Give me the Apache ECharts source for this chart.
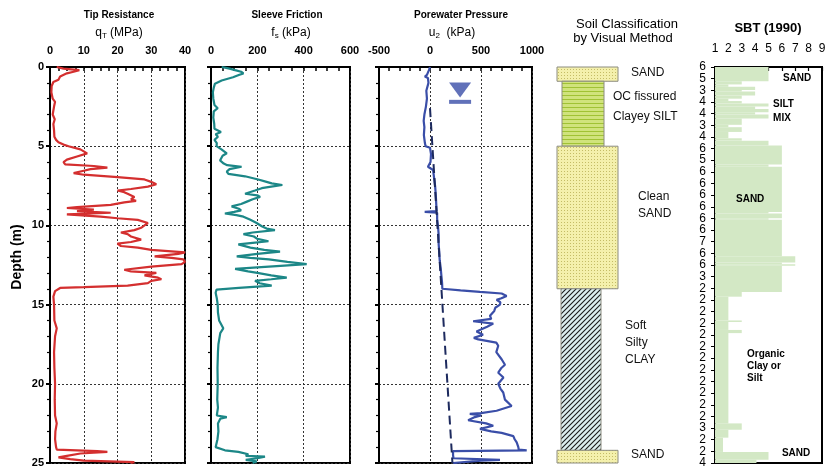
<!DOCTYPE html>
<html>
<head>
<meta charset="utf-8">
<title>CPTu profile</title>
<script src="https://cdn.jsdelivr.net/npm/echarts@6.0.0/dist/echarts.min.js"></script>
<style>
  html, body { margin: 0; padding: 0; background: #fff; }
  #profile { width: 832px; height: 474px; }
</style>
</head>
<body>
<div id="profile"></div>
<script>
var qtProfile = [
  [0, 2], [0.1, 4], [0.2, 8.7], [0.3, 7], [0.4, 5], [0.6, 3], [0.8, 2.5], [0.95, 1], [1.2, 0.5], [1.6, 0.4],
  [2.0, 0.8], [2.2, 1.5], [2.5, 1.2], [3.0, 0.8], [3.3, 1.4], [3.6, 1.0], [4.0, 1.2], [4.4, 1.3], [4.6, 1.8], [4.75, 2.5],
  [4.9, 4], [5.0, 5.5], [5.2, 9], [5.45, 11], [5.65, 8], [5.85, 5], [6.0, 4], [6.15, 4.5], [6.25, 13], [6.35, 17],
  [6.45, 12], [6.55, 10], [6.7, 7], [6.8, 10], [6.95, 20], [7.1, 28], [7.25, 30], [7.4, 31.5], [7.55, 29], [7.7, 24],
  [7.8, 20], [7.9, 22], [8.0, 23], [8.2, 25], [8.35, 24], [8.45, 25.5], [8.55, 22], [8.7, 18], [8.85, 8], [8.9, 5],
  [9.0, 13], [9.1, 8], [9.2, 18], [9.3, 5], [9.45, 15], [9.55, 20], [9.65, 26], [9.85, 29], [10.0, 28], [10.15, 27],
  [10.3, 25], [10.45, 21], [10.55, 23], [10.7, 24], [10.9, 27], [11.05, 24], [11.15, 20], [11.3, 21], [11.4, 26], [11.55, 30],
  [11.7, 40], [11.8, 38], [11.95, 31], [12.05, 36], [12.15, 39.5], [12.3, 40], [12.45, 39], [12.6, 30], [12.8, 22], [12.9, 24],
  [13.0, 31.5], [13.15, 28], [13.3, 32], [13.4, 33], [13.5, 30], [13.65, 29], [13.8, 23], [13.9, 10], [13.95, 3], [14.15, 1.5],
  [14.5, 1], [15, 1.2], [16, 1.3], [16.5, 2], [17, 1.5], [18, 1.2], [19, 1.3], [20, 1.5], [21, 1.4], [22, 1.5],
  [22.5, 2], [23, 1.6], [23.5, 1.5], [24.0, 1.8], [24.15, 2], [24.25, 14], [24.3, 17], [24.4, 9], [24.55, 5], [24.65, 2.5],
  [24.75, 6], [24.85, 10], [24.95, 25], [25.0, 24]
];

var fsProfile = [
  [0, 46], [0.1, 80], [0.2, 104], [0.3, 130], [0.4, 140], [0.5, 120], [0.65, 95], [0.85, 46], [1.05, 17], [1.3, 12],
  [1.6, 8], [2.0, 10], [2.4, 15], [2.6, 29], [2.8, 12], [3.2, 10], [3.6, 14], [3.9, 15], [4.1, 43], [4.25, 20],
  [4.4, 30], [4.6, 15], [4.8, 25], [5.0, 24], [5.2, 45], [5.45, 68], [5.6, 50], [5.9, 39], [6.1, 55], [6.2, 70],
  [6.3, 132], [6.45, 80], [6.6, 68], [6.75, 75], [6.9, 147], [7.1, 204], [7.25, 240], [7.35, 262], [7.45, 308], [7.55, 260],
  [7.65, 219], [7.8, 190], [8.0, 147], [8.1, 200], [8.2, 212], [8.35, 180], [8.5, 155], [8.65, 130], [8.8, 89], [8.95, 120],
  [9.05, 130], [9.15, 100], [9.25, 60], [9.35, 110], [9.45, 140], [9.65, 170], [9.85, 197], [10.05, 219], [10.2, 240], [10.3, 276],
  [10.45, 180], [10.55, 140], [10.7, 185], [10.85, 200], [11.0, 248], [11.1, 180], [11.2, 118], [11.4, 170], [11.55, 230], [11.65, 298],
  [11.8, 200], [11.95, 111], [12.05, 170], [12.15, 250], [12.3, 330], [12.45, 413], [12.55, 300], [12.65, 200], [12.75, 104], [12.9, 160],
  [13.0, 200], [13.15, 260], [13.3, 327], [13.4, 260], [13.5, 190], [13.65, 210], [13.8, 262], [13.95, 120], [14.05, 24], [14.25, 20],
  [14.6, 25], [15, 29], [15.5, 30], [16, 35], [16.5, 53], [16.8, 40], [17.5, 32], [18, 30], [19, 28], [20, 29],
  [21, 27], [21.5, 30], [22, 25], [22.1, 68], [22.2, 40], [22.5, 30], [23, 32], [23.5, 28], [24.0, 20], [24.2, 60],
  [24.3, 118], [24.45, 161], [24.55, 150], [24.6, 233], [24.7, 200], [24.8, 150], [24.9, 197], [25, 180]
];

var u2Profile = [
  [0, 0], [0.2, -10], [0.5, -30], [0.6, -50], [0.7, -20], [1.0, -15], [1.5, -36], [2.0, -30], [2.5, -40], [3.0, -55],
  [3.4, -62], [3.8, -55], [4.3, -60], [4.8, -50], [5.0, -43], [5.1, 0], [5.5, 10], [6.0, 5], [6.3, -20], [6.4, -15],
  [6.5, 30], [7.0, 40], [7.5, 50], [8.0, 56], [8.5, 60], [9.1, 65], [9.15, -52], [9.2, 70], [9.6, 70], [10.1, 79],
  [10.6, 85], [11.2, 85], [11.6, 90], [12.2, 95], [12.7, 105], [13.2, 112], [13.6, 118], [14.0, 121], [14.1, 300], [14.2, 489],
  [14.3, 702], [14.45, 751], [14.6, 700], [14.7, 653], [14.85, 690], [15.0, 686], [15.2, 640], [15.4, 630], [15.7, 588], [15.9, 600],
  [16.05, 423], [16.2, 620], [16.4, 560], [16.7, 456], [16.9, 520], [17.1, 430], [17.2, 474], [17.4, 650], [17.6, 669], [18.0, 650],
  [18.45, 702], [18.8, 735], [19.0, 700], [19.3, 669], [19.6, 720], [20.0, 669], [20.3, 690], [20.55, 718], [21.0, 735], [21.4, 800],
  [21.7, 653], [21.85, 500], [21.9, 390], [22.0, 500], [22.1, 440], [22.3, 374], [22.5, 550], [22.65, 620], [22.85, 490], [23.0, 600],
  [23.1, 702], [23.3, 817], [23.5, 830], [23.7, 850], [24.0, 866], [24.15, 870], [24.2, 948], [24.25, 226], [24.5, 226], [24.7, 230],
  [24.8, 686], [24.85, 500], [25, 226]
];

// hydrostatic u0 (dashed), [depth, kPa]
var u0Line = [[2.6, 0], [25, 220]];

// water table symbol, [u2 kPa, depth]
var waterMarkTriangle = [295, 1.45];
var waterMarkBar = [295, 2.2];

// soil column by visual method
var soilTop = [0, 0.9, 5.0, 14.0, 24.2];
var soilBottom = [0.9, 5.0, 14.0, 24.2, 25];
var soilType = ['sand', 'silt', 'sand', 'clay', 'sand'];
var soilNames = ['SAND', 'OC fissured\nClayey SILT', 'Clean\nSAND', 'Soft\nSilty\nCLAY', 'SAND'];
var soilLabelDepth = [0.38, 2.53, 8.7, 17.4, 24.5];

// SBT (1990) zones, [top, bottom, zone]
var sbtLayers = [
  [0, 0.9, 5], [0.9, 1.1, 3], [1.1, 1.25, 2], [1.25, 1.45, 4], [1.45, 1.55, 3], [1.55, 1.8, 4], [1.8, 2.0, 3],
  [2.0, 2.15, 2], [2.15, 2.3, 3], [2.3, 2.5, 5], [2.5, 2.65, 4], [2.65, 2.85, 5], [2.85, 3.0, 4], [3.0, 3.25, 5],
  [3.25, 3.65, 3], [3.65, 3.8, 2], [3.8, 4.1, 3], [4.1, 4.5, 2], [4.5, 4.65, 3], [4.65, 4.95, 5], [4.95, 6.15, 6],
  [6.15, 6.3, 5], [6.3, 9.15, 6], [9.15, 9.25, 5], [9.25, 9.55, 6], [9.55, 9.65, 5], [9.65, 11.95, 6], [11.95, 12.35, 7],
  [12.35, 12.45, 6], [12.45, 12.55, 7], [12.55, 14.2, 6], [14.2, 14.5, 3], [14.5, 16.0, 2], [16.0, 16.1, 3], [16.1, 16.6, 2],
  [16.6, 16.8, 3], [16.8, 22.5, 2], [22.5, 22.9, 3], [22.9, 23.4, 2], [23.4, 24.3, 1.6], [24.3, 24.8, 5], [24.8, 25, 4.1]
];
var sbtTickLabels = ['6', '5', '3', '4', '4', '3', '4', '6', '5', '6', '6', '6', '6', '6', '6', '7', '6', '6', '3',
  '2', '2', '2', '2', '2', '2', '2', '2', '2', '2', '2', '2', '3', '2', '2', '4'];
var sbtNoteText = ['SAND', 'SILT\nMIX', 'SAND', 'Organic\nClay or\nSilt', 'SAND'];
var sbtNoteZone = [6.08, 5.34, 2.57, 3.39, 6.0];
var sbtNoteDepth = [0.69, 2.78, 8.33, 18.9, 24.37];

var font = 'Liberation Sans, Arial, sans-serif';

// fill patterns for the soil column
function makePattern(kind) {
  var c = document.createElement('canvas');
  var ctx = c.getContext('2d');
  if (kind === 'sand') {
    c.width = 3; c.height = 3;
    ctx.fillStyle = '#f4f0ac'; ctx.fillRect(0, 0, 3, 3);
    ctx.fillStyle = '#c4bc66'; ctx.fillRect(0, 0, 1, 1);
  } else if (kind === 'silt') {
    c.width = 4; c.height = 4;
    ctx.fillStyle = '#d0e37c'; ctx.fillRect(0, 0, 4, 4);
    ctx.fillStyle = '#a0c234'; ctx.fillRect(0, 3, 4, 1);
  } else {
    c.width = 5; c.height = 5;
    ctx.fillStyle = '#dcefef'; ctx.fillRect(0, 0, 5, 5);
    ctx.strokeStyle = '#1a1a1a'; ctx.lineWidth = 1.1;
    ctx.beginPath();
    ctx.moveTo(0, 5); ctx.lineTo(5, 0);
    ctx.moveTo(-1, 1); ctx.lineTo(1, -1);
    ctx.moveTo(4, 6); ctx.lineTo(6, 4);
    ctx.stroke();
  }
  return { image: c, repeat: 'repeat' };
}
var patterns = { sand: makePattern('sand'), silt: makePattern('silt'), clay: makePattern('clay') };
// column widths on the 0-100 soil axis
var soilStyle = { sand: [17, 78], silt: [22, 64], clay: [21, 61] };
var soilLabelLayout = [{ x: 91, lh: 14 }, { x: 73, lh: 20 }, { x: 98, lh: 17 }, { x: 85, lh: 17 }, { x: 91, lh: 14 }];

function toXY(profile) {
  return profile.map(function (p) { return [p[1], p[0]]; });
}

function depthAxis(gridIndex, showLabels) {
  return {
    type: 'value', gridIndex: gridIndex, min: 0, max: 25, interval: 5, inverse: true,
    axisLine: { show: true, onZero: false, lineStyle: { color: '#000', width: 2 } },
    axisTick: { show: true, length: 4, lineStyle: { color: '#000', width: 2 } },
    minorTick: { show: true, splitNumber: 5, length: 3, lineStyle: { color: '#000', width: 1.2 } },
    axisLabel: { show: showLabels, color: '#000', fontSize: 11, fontWeight: 'bold', fontFamily: font, margin: 6 },
    splitLine: { show: true, lineStyle: { color: '#333', type: [2, 2], width: 1 } }
  };
}

function topAxis(gridIndex, min, max, interval, minorSplit) {
  return {
    type: 'value', gridIndex: gridIndex, position: 'top', min: min, max: max, interval: interval,
    axisLine: { show: true, onZero: false, lineStyle: { color: '#000', width: 2 } },
    axisTick: { show: true, inside: true, length: 4, lineStyle: { color: '#000', width: 1.5 } },
    minorTick: { show: true, splitNumber: minorSplit, length: 4, lineStyle: { color: '#000', width: 1.5 } },
    axisLabel: {
      color: '#000', fontSize: 11, fontWeight: 'bold', fontFamily: font, margin: 11,
      formatter: function (v) { return String(v); }
    },
    splitLine: { show: true, lineStyle: { color: '#333', type: [2, 2], width: 1 } }
  };
}

function frame(left, width) {
  return { left: left, top: 67, width: width, height: 396, show: true, borderColor: '#000', borderWidth: 2 };
}

function head(text, x, top, size, weight) {
  return {
    text: text, left: x, top: top, textAlign: 'center', padding: 0,
    textStyle: {
      fontSize: size, fontWeight: weight, fontFamily: font, color: '#000',
      rich: {
        a: { fontSize: 12, lineHeight: 15, fontFamily: font, color: '#000' },
        s: { fontSize: 8, lineHeight: 8, verticalAlign: 'bottom', fontFamily: font, color: '#000' }
      }
    }
  };
}

var option = {
  backgroundColor: '#fff',
  animation: false,
  title: [
    head('Tip Resistance', 119, 10, 10, 'bold'),
    head('{a|q}{s|T}{a| (MPa)}', 119, 25, 12, 'normal'),
    head('Sleeve Friction', 287, 10, 10, 'bold'),
    head('{a|f}{s|s}{a| (kPa)}', 291, 25, 12, 'normal'),
    head('Porewater Pressure', 461, 10, 10, 'bold'),
    head('{a|u}{s|2}{a|  (kPa)}', 452, 25, 12, 'normal'),
    head('Soil Classification', 627, 18, 13, 'normal'),
    head('by Visual Method', 623, 32, 13, 'normal'),
    head('SBT (1990)', 768, 22, 13, 'bold')
  ],
  graphic: [{
    type: 'text', x: 17, y: 257, rotation: Math.PI / 2,
    style: { text: 'Depth (m)', font: 'bold 14px ' + font, fill: '#000', align: 'center', verticalAlign: 'middle' }
  }],
  grid: [
    frame(50, 135),
    frame(211, 139),
    frame(379, 153),
    { left: 540, top: 67, width: 100, height: 396 },
    frame(715, 107)
  ],
  xAxis: [
    topAxis(0, 0, 40, 10, 4),
    topAxis(1, 0, 600, 200, 4),
    topAxis(2, -500, 1000, 500, 5),
    { type: 'value', gridIndex: 3, min: 0, max: 100, show: false },
    {
      type: 'value', gridIndex: 4, position: 'top', min: 1, max: 9, interval: 1,
      axisLine: { onZero: false, lineStyle: { color: '#000', width: 1.5 } },
      axisTick: { inside: true, length: 4, lineStyle: { color: '#000', width: 1.2 } },
      axisLabel: { color: '#000', fontSize: 12, fontFamily: font, margin: 12 },
      splitLine: { show: false }
    }
  ],
  yAxis: [
    depthAxis(0, true),
    depthAxis(1, false),
    depthAxis(2, false),
    { type: 'value', gridIndex: 3, min: 0, max: 25, inverse: true, show: false },
    { type: 'value', gridIndex: 4, min: 0, max: 25, inverse: true, show: false },
    {
      type: 'category', gridIndex: 4, position: 'left', data: sbtTickLabels, inverse: true, boundaryGap: false,
      axisLine: { onZero: false, lineStyle: { color: '#000', width: 1.5 } },
      axisTick: { show: true, length: 4, interval: 0, lineStyle: { color: '#000', width: 1 } },
      axisLabel: { interval: 0, color: '#000', fontSize: 12, fontFamily: font, margin: 9 },
      splitLine: { show: false }
    }
  ],
  series: [
    {
      name: 'qT', type: 'line', xAxisIndex: 0, yAxisIndex: 0, data: toXY(qtProfile),
      showSymbol: false, lineStyle: { color: '#d42f2f', width: 2.2 }
    },
    {
      name: 'fs', type: 'line', xAxisIndex: 1, yAxisIndex: 1, data: toXY(fsProfile),
      showSymbol: false, lineStyle: { color: '#1c8787', width: 2.2 }
    },
    {
      name: 'u2', type: 'line', xAxisIndex: 2, yAxisIndex: 2, data: toXY(u2Profile),
      showSymbol: false, lineStyle: { color: '#3a4ea8', width: 2.2 }
    },
    {
      name: 'u0', type: 'line', xAxisIndex: 2, yAxisIndex: 2, data: toXY(u0Line),
      showSymbol: false, lineStyle: { color: '#1d2a5e', width: 2, type: [9, 5] }
    },
    {
      type: 'scatter', xAxisIndex: 2, yAxisIndex: 2, data: [waterMarkTriangle],
      symbol: 'triangle', symbolRotate: 180, symbolSize: [22, 15], itemStyle: { color: '#3a4ea8' }
    },
    {
      type: 'scatter', xAxisIndex: 2, yAxisIndex: 2, data: [waterMarkBar],
      symbol: 'rect', symbolSize: [22, 4], itemStyle: { color: '#3a4ea8' }
    },
    {
      type: 'custom', xAxisIndex: 3, yAxisIndex: 3,
      data: soilTop.map(function (t, i) { return [t, soilBottom[i]]; }),
      renderItem: function (params, api) {
        var i = params.dataIndex;
        var st = soilStyle[soilType[i]];
        var a = api.coord([st[0], api.value(0)]);
        var b = api.coord([st[1], api.value(1)]);
        var lp = api.coord([soilLabelLayout[i].x, soilLabelDepth[i]]);
        return {
          type: 'group',
          children: [
            {
              type: 'rect', shape: { x: a[0], y: a[1], width: b[0] - a[0], height: b[1] - a[1] },
              style: { fill: patterns[soilType[i]], stroke: '#8c8c80', lineWidth: 1 }
            },
            {
              type: 'text', x: lp[0], y: lp[1],
              style: {
                text: soilNames[i], font: '12px ' + font, fill: '#111',
                align: 'left', verticalAlign: 'middle', lineHeight: soilLabelLayout[i].lh
              }
            }
          ]
        };
      }
    },
    {
      type: 'custom', xAxisIndex: 4, yAxisIndex: 4, data: sbtLayers,
      encode: { x: 2, y: [0, 1] },
      renderItem: function (params, api) {
        var a = api.coord([1, api.value(0)]);
        var b = api.coord([api.value(2), api.value(1)]);
        return {
          type: 'rect', shape: { x: a[0], y: a[1], width: b[0] - a[0], height: b[1] - a[1] },
          style: { fill: '#d3e8c5' }
        };
      }
    },
    {
      type: 'custom', xAxisIndex: 4, yAxisIndex: 4,
      data: sbtNoteZone.map(function (z, i) { return [z, sbtNoteDepth[i]]; }),
      renderItem: function (params, api) {
        var p = api.coord([api.value(0), api.value(1)]);
        return {
          type: 'text', x: p[0], y: p[1],
          style: {
            text: sbtNoteText[params.dataIndex], font: 'bold 10px ' + font, fill: '#000',
            align: 'left', verticalAlign: 'middle', lineHeight: params.dataIndex === 1 ? 14 : 12
          }
        };
      }
    }
  ]
};

var myChart = echarts.init(document.getElementById('profile'));
myChart.setOption(option);
</script>
</body>
</html>
